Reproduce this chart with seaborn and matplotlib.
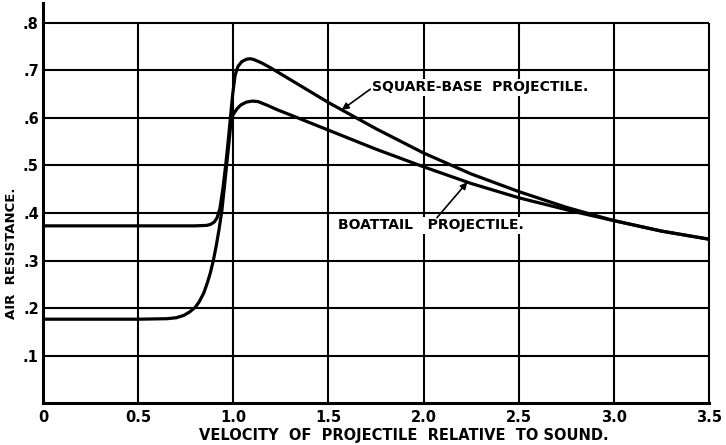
import numpy as np
import pandas as pd
import matplotlib
matplotlib.use("Agg")
import matplotlib.pyplot as plt
import seaborn as sns

# DATA
square_x = [0.0, 0.5, 0.8, 0.86, 0.88, 0.9, 0.915, 0.93, 0.945, 0.96, 0.973,
            0.985, 0.997, 1.01, 1.025, 1.045, 1.07, 1.09, 1.11, 1.15, 1.2,
            1.25, 1.3, 1.4, 1.5, 1.75, 2.0, 2.25, 2.5, 2.75, 3.0, 3.25, 3.5]
square_y = [0.373, 0.373, 0.373, 0.374, 0.376, 0.381, 0.39, 0.41, 0.45, 0.5,
            0.55, 0.6, 0.65, 0.69, 0.708, 0.718, 0.723, 0.724, 0.722, 0.715,
            0.704, 0.692, 0.68, 0.656, 0.632, 0.577, 0.526, 0.482, 0.445, 0.412,
            0.384, 0.362, 0.345]

boattail_x = [0.0, 0.5, 0.65, 0.7, 0.74, 0.77, 0.8, 0.82, 0.845, 0.865, 0.88,
              0.895, 0.91, 0.925, 0.94, 0.952, 0.965, 0.978, 0.99, 1.005, 1.02,
              1.04, 1.07, 1.1, 1.13, 1.18, 1.23, 1.3, 1.4, 1.5, 1.75, 2.0,
              2.25, 2.5, 2.78, 3.0, 3.25, 3.5]
boattail_y = [0.177, 0.177, 0.178, 0.18, 0.185, 0.192, 0.202, 0.213, 0.232,
              0.255, 0.275, 0.3, 0.33, 0.365, 0.405, 0.45, 0.5, 0.55, 0.6,
              0.61, 0.619, 0.627, 0.633, 0.635, 0.634, 0.626, 0.617, 0.606,
              0.59, 0.574, 0.534, 0.497, 0.462, 0.432, 0.404, 0.384, 0.362,
              0.345]

x_ticks = [0.0, 0.5, 1.0, 1.5, 2.0, 2.5, 3.0, 3.5]
x_labels = ["0", "0.5", "1.0", "1.5", "2.0", "2.5", "3.0", "3.5"]
y_ticks = [0.1, 0.2, 0.3, 0.4, 0.5, 0.6, 0.7, 0.8]
y_labels = [".1", ".2", ".3", ".4", ".5", ".6", ".7", ".8"]

square = pd.DataFrame({"x": square_x, "y": square_y})
boattail = pd.DataFrame({"x": boattail_x, "y": boattail_y})

sns.set_style("white")
plt.rcParams["font.family"] = ["DejaVu Sans"]
plt.rcParams["font.weight"] = "bold"
plt.rcParams["text.color"] = "black"
plt.rcParams["axes.labelcolor"] = "black"
plt.rcParams["xtick.color"] = "black"
plt.rcParams["ytick.color"] = "black"

fig = plt.figure(figsize=(7.26, 4.45), dpi=100)
ax = fig.add_axes([0.0592, 0.0933, 0.9174, 0.8989])

# GRID
ax.hlines(y_ticks, 0, 3.5, color="black", lw=1.5, zorder=1, clip_on=False)
ax.vlines(x_ticks[1:], 0, 0.8, color="black", lw=1.5, zorder=1, clip_on=False)

# CURVES
sns.lineplot(data=square, x="x", y="y", ax=ax, color="black", lw=2.3,
             sort=False, estimator=None, zorder=3)
sns.lineplot(data=boattail, x="x", y="y", ax=ax, color="black", lw=2.3,
             sort=False, estimator=None, zorder=3)

ax.set_xlim(0, 3.5)
ax.set_ylim(0, 0.84)

for side in ["top", "right"]:
    ax.spines[side].set_visible(False)
for side in ["left", "bottom"]:
    ax.spines[side].set_color("black")
    ax.spines[side].set_linewidth(2.2)

ax.set_xticks(x_ticks)
ax.set_xticklabels(x_labels, fontsize=10.5, fontweight="bold")
ax.set_yticks(y_ticks)
ax.set_yticklabels(y_labels, fontsize=10.5, fontweight="bold")
ax.tick_params(axis="both", length=0)
ax.tick_params(axis="x", pad=5)
ax.tick_params(axis="y", pad=3)

ax.set_xlabel("VELOCITY  OF  PROJECTILE  RELATIVE  TO SOUND.", fontsize=10.5,
              fontweight="bold")
ax.xaxis.set_label_coords(0.542, -0.062)
ax.set_ylabel("AIR  RESISTANCE.", fontsize=9.5, fontweight="bold")
ax.yaxis.set_label_coords(-0.038, 0.375)

# LABELS WITH ARROWS
box = dict(facecolor="white", edgecolor="none", pad=1)
arrow = dict(arrowstyle="-|>", color="black", lw=1.2, mutation_scale=10,
             shrinkA=0, shrinkB=0)

ax.text(1.73, 0.664, "SQUARE-BASE  PROJECTILE.", fontsize=10, fontweight="bold",
        ha="left", va="center", bbox=box, zorder=4)
ax.annotate("", xy=(1.57, np.interp(1.57, square_x, square_y)),
            xytext=(1.72, 0.66), arrowprops=arrow, zorder=5)

ax.text(1.55, 0.374, "BOATTAIL   PROJECTILE.", fontsize=10, fontweight="bold",
        ha="left", va="center", bbox=box, zorder=4)
ax.annotate("", xy=(2.23, np.interp(2.23, boattail_x, boattail_y)),
            xytext=(2.07, 0.39), arrowprops=arrow, zorder=5)

fig.savefig("out.png", dpi=100)
